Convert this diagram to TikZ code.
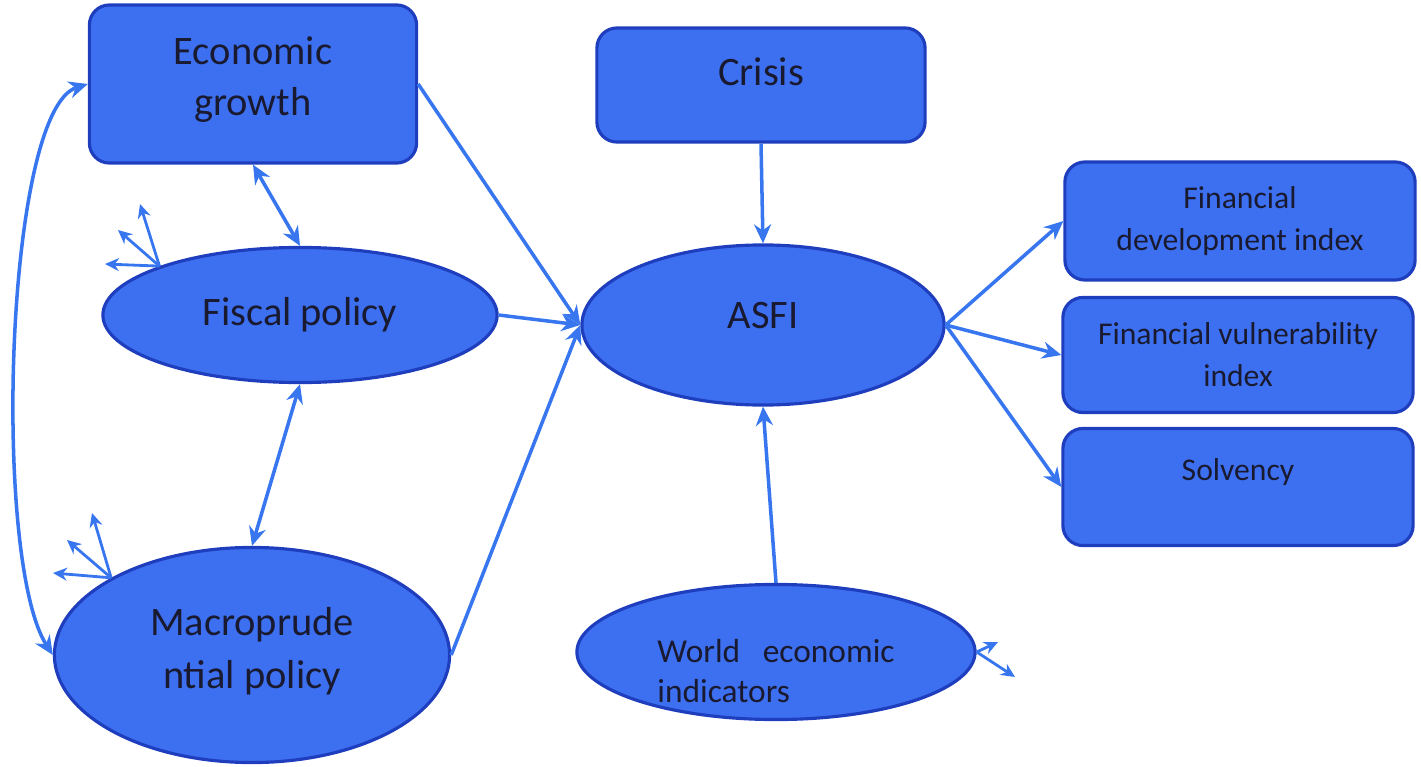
\documentclass[tikz,border=0pt]{standalone}
\usepackage{fontspec}
\setmainfont{Carlito}
\usetikzlibrary{shapes.geometric,arrows.meta}

\definecolor{boxblue}{RGB}{61,112,240}
\definecolor{edgeblue}{RGB}{30,62,190}
\definecolor{arrowblue}{RGB}{55,118,238}
\definecolor{textnavy}{RGB}{25,25,48}

\tikzset{
  box/.style={draw=edgeblue, line width=0.9pt, fill=boxblue, rounded corners=2mm,
    text=textnavy, align=center, inner sep=0pt},
  oval/.style={ellipse, draw=edgeblue, line width=0.9pt, fill=boxblue,
    text=textnavy, align=center, inner sep=0pt},
  bigtext/.style={font=\fontsize{11.5}{14.5}\selectfont},
  smalltext/.style={font=\fontsize{9}{12}\selectfont},
  link/.style={draw=arrowblue, line width=1pt, -{Stealth[length=1.9mm,width=1.7mm]}},
  both/.style={link, {Stealth[length=1.9mm,width=1.7mm]}-{Stealth[length=1.9mm,width=1.7mm]}},
  err/.style={draw=arrowblue, line width=0.8pt, -{Stealth[length=1.4mm,width=1.3mm]}}
}

\begin{document}
\begin{tikzpicture}[x=0.01cm, y=-0.01cm]

  \useasboundingbox (0,0) rectangle (1421,767);

  % Boxes (pixel grid, y down)
  \node[box, bigtext, minimum width=3.27cm, minimum height=1.58cm] (eg)     at ( 253, 84) {\raisebox{4.6pt}{\shortstack{Economic\\[3.5pt]growth}}};
  \node[box, bigtext, minimum width=3.28cm, minimum height=1.14cm] (crisis) at ( 761, 85) {\raisebox{7.4pt}{Crisis}};
  \node[box, smalltext, minimum width=3.50cm, minimum height=1.18cm] (fdi)  at (1240,221) {Financial\\development index};
  \node[box, smalltext, minimum width=3.50cm, minimum height=1.15cm] (fvi)  at (1238,355) {Financial vulnerability\\index};
  \node[box, smalltext, minimum width=3.50cm, minimum height=1.17cm] (solv) at (1238,487) {\raisebox{9.7pt}{Solvency}};

  % Ellipses
  \node[oval, bigtext, minimum width=3.94cm, minimum height=1.35cm] (fp)   at (300,315) {Fiscal policy};
  \node[oval, bigtext, minimum width=3.62cm, minimum height=1.60cm] (asfi) at (763,325) {\raisebox{5.7pt}{ASFI}};
  \node[oval, bigtext, minimum width=3.95cm, minimum height=2.15cm] (mp)   at (252,655) {\raisebox{4pt}{\shortstack{Macroprude\\[2pt]ntial policy}}};
  \node[oval, minimum width=3.98cm, minimum height=1.35cm,
        label={[text=textnavy, align=left, font=\fontsize{9.5}{11.5}\selectfont, yshift=-1.9mm]center:World\ \ \ economic\\indicators}]
        (we) at (776,652) {};

  % Error terms
  \coordinate (fpa) at (140,204);
  \coordinate (fpb) at (118,230);
  \coordinate (fpc) at (105,264);
  \coordinate (mpa) at ( 92,513);
  \coordinate (mpb) at ( 67,540);
  \coordinate (mpc) at ( 53,573);
  \coordinate (wea) at (998,642);
  \coordinate (web) at (1015,677);
  \foreach \t in {fpa,fpb,fpc} \draw[err] (fp.north west) -- (\t);
  \foreach \t in {mpa,mpb,mpc} \draw[err] (mp.north west) -- (\t);
  \foreach \t in {wea,web} \draw[err] (we.east) -- (\t);

  % Paths into ASFI
  \draw[link] (eg.east)      -- (asfi.west);
  \draw[link] (fp.east)      -- (asfi.west);
  \draw[link] (mp.east)      -- (asfi.west);
  \draw[link] (crisis.south) -- (asfi.north);
  \draw[link] (we.north)     -- (asfi.south);

  % Paths out of ASFI
  \draw[link] (asfi.east) -- (fdi.west);
  \draw[link] (asfi.east) -- (fvi.west);
  \draw[link] (asfi.east) -- (solv.west);

  % Correlations
  \draw[both] (eg.south) -- (fp.north);
  \draw[both] (fp.south) -- (mp.north);
  \draw[both] (eg.west) .. controls (5,110) and (-8,560) .. (mp.west);

\end{tikzpicture}
\end{document}
